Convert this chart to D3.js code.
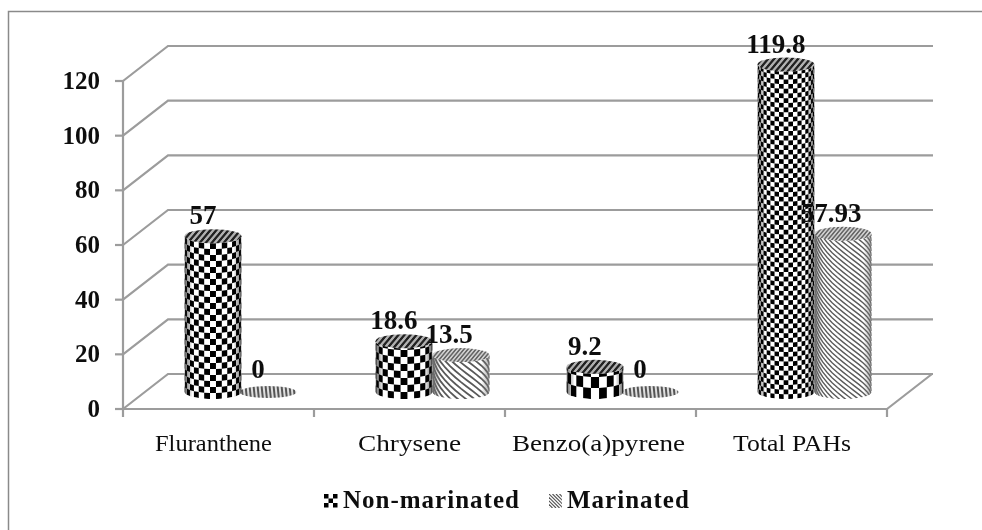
<!DOCTYPE html>
<html>
<head>
<meta charset="utf-8">
<script src="https://cdn.jsdelivr.net/npm/d3@7"></script>
<style>
  html, body { margin: 0; padding: 0; background: #fff; }
  svg { display: block; }
  text { font-family: "Liberation Serif", serif; fill: #111; }
</style>
</head>
<body>
<div id="chart"></div>
<script>
// data
const categories = ['Fluranthene', 'Chrysene', 'Benzo(a)pyrene', 'Total PAHs'];
const seriesNames = ['Non-marinated', 'Marinated'];
const nonMarinated = [57, 18.6, 9.2, 119.8];
const marinated = [0, 13.5, 0, 57.93];
const valueLabels = [['57', '18.6', '9.2', '119.8'], ['0', '13.5', '0', '57.93']];
const yTicks = [0, 20, 40, 60, 80, 100, 120];

const width = 982;
const height = 530;

// fake 3d: the back wall is shifted from the front plane, bars stand half way
const wallDx = 45, wallDy = -35;
const barDx = 23, barDy = -17;
const ry = 7;

const x = d3.scaleBand().domain(categories).range([123, 887]);
const xInner = d3.scaleBand().domain(seriesNames).range([0, x.bandwidth()]).paddingOuter(0.675).paddingInner(0);
const y = d3.scaleLinear().domain([0, 120]).range([409, 81]);

// the labels are stretched unevenly in the picture
const xLabelStart = [155, 358, 512, 733];
const xLabelWidth = [117, 103, 173, 118];

// texture gets finer as the bars get taller
const checkerSize = d3.scaleLinear().domain([9.2, 18.6, 57, 119.8]).range([11, 7, 6, 4.7]);
const hatchSize = d3.scaleLinear().domain([13.5, 57.93]).range([6.5, 5]);

const svg = d3.select('#chart').append('svg')
    .attr('width', width)
    .attr('height', height);

const defs = svg.append('defs');
defs.append('filter').attr('id', 'soft')
    .attr('x', 0).attr('y', 0).attr('width', 1).attr('height', 1)
    .attr('filterUnits', 'objectBoundingBox')
    .append('feGaussianBlur').attr('stdDeviation', 0.45);

function stripePattern(id, size, bg, fg, skew) {
    const p = defs.append('pattern')
        .attr('id', id)
        .attr('patternUnits', 'userSpaceOnUse')
        .attr('width', size)
        .attr('height', size)
        .attr('patternTransform', `skewX(${skew})`);
    p.append('rect').attr('width', size).attr('height', size).attr('fill', bg);
    p.append('rect').attr('width', size / 2).attr('height', size).attr('fill', fg);
}
stripePattern('top-dark', 6, '#b0b0b0', '#222', -40);
stripePattern('top-gray', 4, '#d0d0d0', '#666', -40);
stripePattern('top-zero', 4, '#dedede', '#555', 6);

function edgeGradient(id, color, edge) {
    const g = defs.append('linearGradient').attr('id', id);
    g.append('stop').attr('offset', 0).attr('stop-color', color).attr('stop-opacity', edge);
    g.append('stop').attr('offset', 0.14).attr('stop-color', color).attr('stop-opacity', 0);
    g.append('stop').attr('offset', 0.86).attr('stop-color', color).attr('stop-opacity', 0);
    g.append('stop').attr('offset', 1).attr('stop-color', color).attr('stop-opacity', edge);
}
edgeGradient('edge-dark', '#000', 0.6);
edgeGradient('edge-gray', '#777', 0.65);

const root = svg.append('g').attr('filter', 'url(#soft)');

root.append('rect').attr('width', width).attr('height', height).attr('fill', '#fff');

// outer frame, only top and left are in the picture
root.append('path')
    .attr('d', `M8.5,${height}V11.5H${width}`)
    .attr('fill', 'none')
    .attr('stroke', '#8a8a8a')
    .attr('stroke-width', 1.5);

///
/// walls and axes
///
const grid = root.append('g')
    .attr('fill', 'none')
    .attr('stroke', '#9c9c9c')
    .attr('stroke-width', 2.2);

const x0 = x.range()[0], x1 = x.range()[1];

grid.selectAll('.wall')
    .data(yTicks)
    .join('path')
    .attr('class', 'wall')
    .attr('d', d => `M${x0},${y(d)}L${x0 + wallDx},${y(d) + wallDy}H${x1 + wallDx + 1}`);

grid.append('path')
    .attr('d', `M${x0},${y(120)}V${y(0)}H${x1}L${x1 + wallDx},${y(0) + wallDy}`);

grid.selectAll('.ytick')
    .data(yTicks)
    .join('line')
    .attr('class', 'ytick')
    .attr('x1', x0 - 8).attr('x2', x0)
    .attr('y1', d => y(d)).attr('y2', d => y(d));

grid.selectAll('.xtick')
    .data(categories.map(c => x(c)).concat([x1]))
    .join('line')
    .attr('class', 'xtick')
    .attr('x1', d => d).attr('x2', d => d)
    .attr('y1', y(0)).attr('y2', y(0) + 8);

root.selectAll('.ylabel')
    .data(yTicks)
    .join('text')
    .attr('class', 'ylabel')
    .attr('x', 100)
    .attr('y', d => y(d) + 8)
    .attr('text-anchor', 'end')
    .attr('font-size', 25)
    .attr('font-weight', 'bold')
    .text(d => d);

root.selectAll('.xlabel')
    .data(categories)
    .join('text')
    .attr('class', 'xlabel')
    .attr('x', (d, i) => xLabelStart[i])
    .attr('y', 451)
    .attr('font-size', 24)
    .attr('textLength', (d, i) => xLabelWidth[i])
    .attr('lengthAdjust', 'spacingAndGlyphs')
    .text(d => d);

///
/// cylinders
///
const thetas = d3.range(-8, 9).map(i => i / 8 * Math.PI / 2);

function cylinderPath(cx, rx, yTop, yBase) {
    return `M${cx - rx},${yTop}V${yBase}A${rx},${ry} 0 0 0 ${cx + rx},${yBase}V${yTop}A${rx},${ry} 0 0 1 ${cx - rx},${yTop}Z`;
}

function drawChecker(g, cx, rx, yTop, yBase, value) {
    const cell = checkerSize(value);
    const cols = Math.round(Math.PI * rx / Math.min(cell, 8));
    const rows = Math.ceil((yBase - yTop + ry * 2) / cell) + 1;
    const dTheta = Math.PI / cols;
    const cells = [];
    for (let r = 0; r < rows; r++) {
        for (let c = 0; c < cols; c++) {
            if ((r + c) % 2 == 0) cells.push([r, c]);
        }
    }
    g.append('g').selectAll('path')
        .data(cells)
        .join('path')
        .attr('fill', '#000')
        .attr('d', ([r, c]) => {
            const a = -Math.PI / 2 + c * dTheta, b = a + dTheta;
            const yb = yBase - r * cell, yt = yb - cell;
            return `M${cx + rx * Math.sin(a)},${yb + ry * Math.cos(a)}`
                + `L${cx + rx * Math.sin(b)},${yb + ry * Math.cos(b)}`
                + `L${cx + rx * Math.sin(b)},${yt + ry * Math.cos(b)}`
                + `L${cx + rx * Math.sin(a)},${yt + ry * Math.cos(a)}Z`;
        });
}

function drawHatch(g, cx, rx, yTop, yBase, value) {
    const step = hatchSize(value);
    const starts = d3.range(yTop - rx - 10, yBase + rx + 10, step);
    const line = d3.line()
        .x(t => cx + rx * Math.sin(t))
        .curve(d3.curveLinear);
    g.append('g').selectAll('path')
        .data(starts)
        .join('path')
        .attr('fill', 'none')
        .attr('stroke', '#5a5a5a')
        .attr('stroke-width', step * 0.28)
        .attr('d', y0 => line.y(t => y0 + rx * t * 0.8 + ry * Math.cos(t))(thetas));
}

const bars = [];
seriesNames.forEach((name, s) => {
    const values = s == 0 ? nonMarinated : marinated;
    values.forEach((v, i) => {
        bars.push({ s, name, v, cat: categories[i], label: valueLabels[s][i], i });
    });
});

const rx = xInner.bandwidth() / 2;
// marinated goes first, the checkered cylinder sits in front of it
const drawOrder = bars.slice().sort((a, b) => b.s - a.s);

drawOrder.forEach((d, idx) => {
    const cx = x(d.cat) + xInner(d.name) + rx + barDx;
    const yBase = y(0) + barDy;
    const yTop = y(d.v) + barDy;
    d.cx = cx;
    d.yTop = yTop;

    if (d.v == 0) {
        root.append('ellipse')
            .attr('cx', cx - 2).attr('cy', yTop)
            .attr('rx', rx).attr('ry', ry - 1)
            .attr('fill', 'url(#top-zero)');
        return;
    }

    const clipId = 'clip-' + idx;
    defs.append('clipPath').attr('id', clipId)
        .append('path').attr('d', cylinderPath(cx, rx, yTop, yBase));

    const g = root.append('g').attr('clip-path', `url(#${clipId})`);
    g.append('rect')
        .attr('x', cx - rx).attr('y', yTop - ry)
        .attr('width', rx * 2).attr('height', yBase - yTop + ry * 2)
        .attr('fill', '#fff');

    if (d.s == 0) drawChecker(g, cx, rx, yTop, yBase, d.v);
    else drawHatch(g, cx, rx, yTop, yBase, d.v);

    g.append('rect')
        .attr('x', cx - rx).attr('y', yTop - ry)
        .attr('width', rx * 2).attr('height', yBase - yTop + ry * 2)
        .attr('fill', d.s == 0 ? 'url(#edge-dark)' : 'url(#edge-gray)');

    root.append('ellipse')
        .attr('cx', cx).attr('cy', yTop)
        .attr('rx', rx).attr('ry', ry)
        .attr('fill', d.s == 0 ? 'url(#top-dark)' : 'url(#top-gray)');
});

///
/// value labels
///
root.selectAll('.vlabel')
    .data(bars)
    .join('text')
    .attr('class', 'vlabel')
    .attr('x', d => d.cx + (d.s == 0 ? -10 : -12))
    .attr('y', d => d.yTop - (d.v == 0 ? 14 : 12))
    .attr('text-anchor', 'middle')
    .attr('font-size', 27)
    .attr('font-weight', 'bold')
    .text(d => d.label);

///
/// legend
///
const legendX = [343, 567];
const legend = root.selectAll('.legend')
    .data(seriesNames)
    .join('g')
    .attr('class', 'legend');

legend.append('text')
    .attr('x', (d, i) => legendX[i])
    .attr('y', 508)
    .attr('font-size', 25)
    .attr('letter-spacing', 1)
    .attr('font-weight', 'bold')
    .text(d => d);

// small checker key
const keyCells = [[0, 0], [2, 0], [1, 1], [0, 2], [2, 2]];
root.append('g').selectAll('rect')
    .data(keyCells)
    .join('rect')
    .attr('x', d => legendX[0] - 19 + d[0] * 4.5)
    .attr('y', d => 494 + d[1] * 4.5)
    .attr('width', 4.5)
    .attr('height', 4.5)
    .attr('fill', '#000');

// small hatch key
defs.append('clipPath').attr('id', 'key-clip')
    .append('rect')
    .attr('x', legendX[1] - 18).attr('y', 494)
    .attr('width', 13).attr('height', 14);
root.append('g').attr('clip-path', 'url(#key-clip)')
    .selectAll('line')
    .data(d3.range(-14, 14, 3.5))
    .join('line')
    .attr('x1', d => legendX[1] - 18 + d)
    .attr('x2', d => legendX[1] - 18 + d + 14)
    .attr('y1', 494)
    .attr('y2', 508)
    .attr('stroke', '#555')
    .attr('stroke-width', 1.2);
</script>
</body>
</html>
